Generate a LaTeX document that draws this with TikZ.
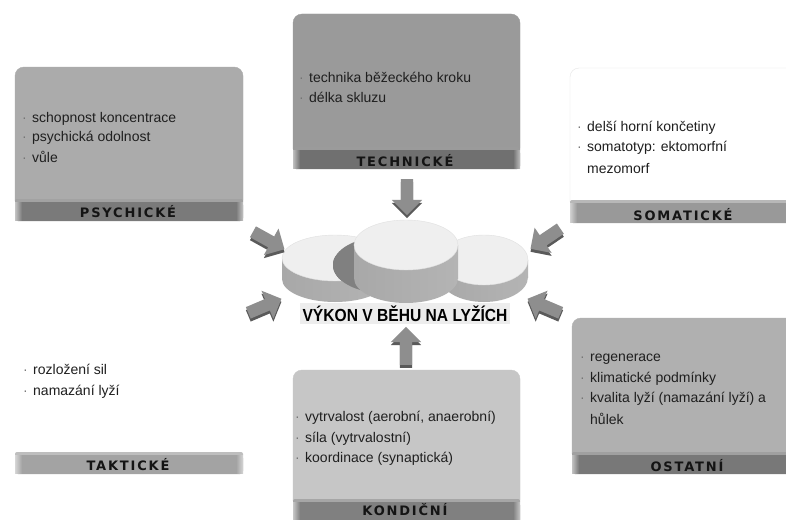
\documentclass[tikz,border=0pt]{standalone}
\usepackage{fontspec}
\setmainfont{Liberation Sans}
\newfontfamily\labfont[LetterSpace=14]{DejaVu Sans}
\usetikzlibrary{shapes.arrows,shadows}
\definecolor{cardP}{HTML}{ABABAB}\definecolor{barP}{HTML}{7A7A7A}
\definecolor{cardT}{HTML}{9A9A9A}\definecolor{barT}{HTML}{707070}
\definecolor{cardS}{HTML}{FFFFFF}\definecolor{barS}{HTML}{999999}
\definecolor{cardTa}{HTML}{FFFFFF}\definecolor{barTa}{HTML}{A3A3A3}
\definecolor{cardK}{HTML}{C6C6C6}\definecolor{barK}{HTML}{808080}
\definecolor{cardO}{HTML}{B0B0B0}\definecolor{barO}{HTML}{787878}
\definecolor{discTop}{HTML}{EFEFEF}\definecolor{discL}{HTML}{A8A8A8}
\definecolor{discM}{HTML}{CFCFCF}\definecolor{discR}{HTML}{B4B4B4}
\definecolor{arrowface}{HTML}{8E8E8E}\definecolor{arrowside}{HTML}{5A5A5A}
\newcommand\bl{\makebox[10pt][l]{\textcolor{black!55}{·}}}
\newcommand\nb{\makebox[10pt][l]{}}
% card: x1, ytop, x2, ybar, ybot, cardcolor, barcolor, border
\newcommand\mycard[8]{%
  \fill[#6, draw=#8, rounded corners=9pt] (#1,#4+10) rectangle (#3,#2);
  \fill[#7!70!white, rounded corners=2pt] (#1,#4) rectangle (#3,#4+5);
  \fill[#7, rounded corners=3pt] (#1,#4+3) rectangle (#3,#5);
  \shade[left color=#7!45!white, right color=#7] (#1,#4+3) rectangle (#1+7,#5-1);
  \shade[left color=#7, right color=#7!45!white] (#3-7,#4+3) rectangle (#3,#5-1);
}
\newcommand\mydisc[5]{% cx cy rx ry h
  \shade[left color=discL, middle color=discM, right color=discR] (#1-#3,#2) rectangle (#1+#3,#2+#5);
  \shade[left color=discL, middle color=discM, right color=discR] (#1,#2+#5) ellipse [x radius=#3, y radius=#4];
  \fill[discTop, draw=black!12] (#1,#2) ellipse [x radius=#3, y radius=#4];
}
\begin{document}
\begin{tikzpicture}[x=1pt,y=-1pt,
  txt/.style={anchor=base west, inner sep=0pt, font=\fontsize{14}{17}\selectfont, text=black!88},
  lab/.style={inner sep=0pt, font=\labfont\bfseries\fontsize{13}{15}\selectfont, text=black!92},
  barrow/.style={single arrow, draw=none, fill=arrowface, inner xsep=0pt, inner ysep=6pt,
    single arrow head extend=9pt, minimum height=36pt,
    drop shadow={shadow xshift=0pt, shadow yshift=-3pt, fill=arrowside, opacity=1}}]
\useasboundingbox (0,0) rectangle (786,519);
\clip (0,0) rectangle (786,519);
\fill[white] (0,0) rectangle (786,519);

% cards
\mycard{15}{67}{243}{199}{221}{cardP}{barP}{cardP}
\mycard{293}{14}{520}{147}{169}{cardT}{barT}{cardT}
\mycard{570}{68}{800}{200}{223}{cardS}{barS}{black!10}
\mycard{15}{300}{243}{452}{474}{cardTa}{barTa}{white}
\mycard{293}{370}{520}{499}{540}{cardK}{barK}{cardK}
\mycard{572}{318}{800}{452}{474}{cardO}{barO}{cardO}

% card labels
\node[lab] (lP) at (128,212) {PSYCHICKÉ};
\node[lab] (lT) at (405,161) {TECHNICKÉ};
\node[lab] (lS) at (683,215) {SOMATICKÉ};
\node[lab] (lTa) at (128,465) {TAKTICKÉ};
\node[lab] (lK) at (405,510) {KONDIČNÍ};
\node[lab] (lO) at (687,466) {OSTATNÍ};

% card texts
\node[txt] (p1) at (22,122) {\bl schopnost koncentrace};
\node[txt] (p2) at (22,141) {\bl psychická odolnost};
\node[txt] (p3) at (22,162) {\bl vůle};
\node[txt] (t1) at (299,82) {\bl technika běžeckého kroku};
\node[txt] (t2) at (299,102) {\bl délka skluzu};
\node[txt] (s1) at (577,131) {\bl delší horní končetiny};
\node[txt] (s2) at (577,151) {\bl somatotyp: ektomorfní};
\node[txt] (s3) at (577,173) {\nb mezomorf};
\node[txt] (a1) at (23,374) {\bl rozložení sil};
\node[txt] (a2) at (23,395) {\bl namazání lyží};
\node[txt] (k1) at (295,421) {\bl vytrvalost (aerobní, anaerobní)};
\node[txt] (k2) at (295,442) {\bl síla (vytrvalostní)};
\node[txt] (k3) at (295,462) {\bl koordinace (synaptická)};
\node[txt] (o1) at (580,361) {\bl regenerace};
\node[txt] (o2) at (580,382) {\bl klimatické podmínky};
\node[txt] (o3) at (580,402) {\bl kvalita lyží (namazání lyží) a};
\node[txt] (o4) at (580,424) {\nb hůlek};

% discs
\mydisc{335}{258}{53}{23}{21}
\begin{scope}
  \clip (335,258) ellipse [x radius=53, y radius=23];
  \fill[black!50] (383,265) ellipse [x radius=50, y radius=28];
\end{scope}
\begin{scope}
  \clip (282,258) rectangle (388,279);
  \fill[black!50] (383,265) ellipse [x radius=50, y radius=28];
\end{scope}
\begin{scope}
  \clip (335,279) ellipse [x radius=53, y radius=23];
  \fill[black!50] (383,265) ellipse [x radius=50, y radius=28];
\end{scope}
\mydisc{484}{260}{44}{25}{17}
\mydisc{406}{245}{52}{25}{33}

% title
\fill[black!7] (300,303) rectangle (510,324);
\node[inner sep=0pt, font=\bfseries\fontsize{15.6}{18}\selectfont, yscale=1.12] (title) at (405,314) {VÝKON V BĚHU NA LYŽÍCH};

% arrows
\node[barrow, rotate=-90] (arT) at (407,194) {};
\node[barrow, rotate=90, minimum height=38pt] (arK) at (406,349) {};
\node[barrow, rotate=-29] (arP) at (266,239) {};
\node[barrow, rotate=23] (arTa) at (262,307) {};
\node[barrow, rotate=-146] (arS) at (548,237) {};
\node[barrow, rotate=157] (arO) at (547,307) {};
\end{tikzpicture}
\end{document}
